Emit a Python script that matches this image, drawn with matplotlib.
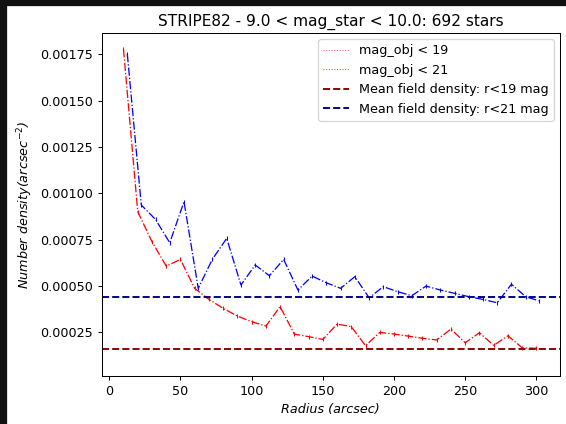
import matplotlib
matplotlib.use("Agg")
import matplotlib.pyplot as plt
from matplotlib.lines import Line2D
from matplotlib.patches import Rectangle

radius_19 = [10, 20, 30, 40, 50, 60, 70, 80, 90, 100, 110, 120, 130, 140, 150,
             160, 170, 180, 190, 200, 210, 220, 230, 240, 250, 260, 270, 280, 290, 300]
radius_21 = [12.7, 22.5, 32.5, 42.5, 52.5, 62.5, 72.5, 82.5, 92.5, 102.5, 112.5, 122.5,
             132.5, 142.5, 152.5, 162.5, 172.5, 182.5, 192.5, 202.5, 212.5, 222.5,
             232.5, 242.5, 252.5, 262.5, 272.5, 282.5, 292.5, 301.5]
density_19 = [0.001778, 0.000901, 0.000739, 0.000607, 0.000643, 0.000487, 0.000427,
              0.000379, 0.000337, 0.000307, 0.000283, 0.000388, 0.000240, 0.000226,
              0.000211, 0.000294, 0.000280, 0.000177, 0.000249, 0.000240, 0.000229,
              0.000217, 0.000208, 0.000267, 0.000193, 0.000247, 0.000179, 0.000231,
              0.000166, 0.000163]
density_21 = [0.001752, 0.000937, 0.000859, 0.000733, 0.000955, 0.000487, 0.000645,
              0.000757, 0.000505, 0.000613, 0.000555, 0.000643, 0.000478, 0.000553,
              0.000517, 0.000487, 0.000550, 0.000436, 0.000496, 0.000469, 0.000447,
              0.000499, 0.000478, 0.000460, 0.000442, 0.000427, 0.000409, 0.000509,
              0.000442, 0.000420]
field_19 = 0.000159
field_21 = 0.000438

DPI = 92
fig = plt.figure(figsize=(566 / DPI, 424 / DPI), dpi=DPI)
ax = fig.add_axes([0.1797, 0.1132, 0.8097, 0.809])

ax.plot(radius_19, density_19, color='red', linestyle='-.', lw=1.0,
        marker='|', markersize=3, markeredgewidth=0.8)
ax.plot(radius_21, density_21, color='blue', linestyle='-.', lw=1.0,
        marker='|', markersize=3, markeredgewidth=0.8)
ax.axhline(field_19, color='darkred', linestyle='--', lw=1.5)
ax.axhline(field_21, color='darkblue', linestyle='--', lw=1.5)

ax.set_xlim(-5.3, 316.6)
ax.set_ylim(0.0000135, 0.001866)
ax.set_yticks([0.00025, 0.0005, 0.00075, 0.001, 0.00125, 0.0015, 0.00175])
ax.set_yticklabels(['0.00025', '0.00050', '0.00075', '0.00100', '0.00125', '0.00150', '0.00175'])
ax.set_xticks([0, 50, 100, 150, 200, 250, 300])

ax.set_title('STRIPE82 - 9.0 < mag_star < 10.0: 692 stars', fontsize=12)
ax.set_xlabel('Radius (arcsec)', style='italic')
ax.set_ylabel('Number density($arcsec^{-2}$)', style='italic')

handles = [
    Line2D([], [], color='#ff6666', linestyle=':', lw=0.8),
    Line2D([], [], color='#6666ff', linestyle=':', lw=0.8),
    Line2D([], [], color='darkred', linestyle='--', lw=1.5),
    Line2D([], [], color='darkblue', linestyle='--', lw=1.5),
]
labels = ['mag_obj < 19', 'mag_obj < 21',
          'Mean field density: r<19 mag', 'Mean field density: r<21 mag']
ax.legend(handles, labels, loc='upper right')

fig.patches.append(Rectangle((0, 0), 6 / 566, 1, transform=fig.transFigure,
                             color='#111111', zorder=-1))
fig.patches.append(Rectangle((0, 1 - 5 / 424), 1, 5 / 424, transform=fig.transFigure,
                             color='#111111', zorder=-1))

fig.savefig('out.png', dpi=DPI)
